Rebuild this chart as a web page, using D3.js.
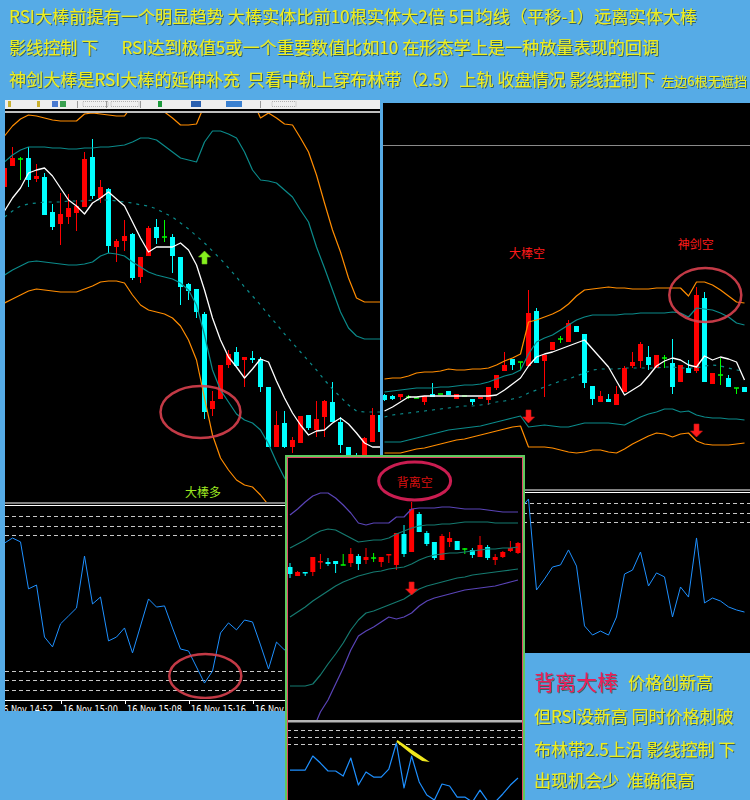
<!DOCTYPE html>
<html><head><meta charset="utf-8">
<script src="https://cdn.jsdelivr.net/npm/d3@7"></script>
<style>
html,body{margin:0;padding:0;background:#56abe6;}
svg{display:block;}
text{white-space:pre;}
</style></head><body>
<svg id="chart" width="750" height="800"></svg>
<script>
// ---------- left chart (1-minute candles, price in points) ----------
const leftOHLC = [
  [313,340,310,332],[334,353,334,342],[341,343,320,341],[342,353,313,320],[321,336,318,324],
  [323,327,285,285],[288,296,270,273],[276,307,255,286],[283,306,276,292],[287,300,269,294],
  [293,348,293,341],[343,361,301,304],[302,320,297,313],[311,312,247,254],[253,261,238,259],
  [259,280,249,264],[266,267,220,222],[223,243,217,243],[244,274,244,272],[273,281,256,262],
  [263,280,258,263],[263,266,227,244],[243,243,195,213],[216,217,200,209],[211,211,182,188],
  [186,188,81,88],[91,109,84,99],[101,135,101,135],[135,150,132,146],[148,153,134,134],
  [140,143,113,143],[142,149,137,140],[141,143,108,113],[113,113,53,53],[53,89,53,75],
  [77,89,52,53],[53,63,47,60],[57,84,57,84],[85,85,70,72],[70,99,63,81],
  [83,100,63,99],[98,118,78,78],[78,83,47,55],[53,53,42,45],[45,47,28,30],
  [45,63,43,62],[58,92,58,85],[85,88,65,68]
];
const leftMA = [289,302,312,327,330,332,324,312,300,294,286,297,302,308,301,294,278,262,248,253,253,253,257,250,235,210,182,160,143,133,122,131,141,138,119,102,87,75,65,69,70,77,82,76,67,57,53,53];
const leftUpperOuter = [364,374,381,385,384,382,380,379,379,379,386,387,386,385,384,384,395,400,400,395,388,382,375,375,376,395,405,405,405,405,405,400,382,387,382,376,375,362,348,325,297,270,248,222,202,198,198,198];
const leftUpperInner = [338,345,350,353,353,353,352,352,351,351,352,352,353,353,354,355,358,362,362,360,354,348,342,340,338,358,369,369,366,362,348,330,320,319,317,310,303,290,278,253,232,210,188,172,164,161,161,161];
const leftMid = [283,289,294,296,297,298,298,298,299,299,299,300,300,300,299,298,297,295,294,291,287,283,277,271,264,257,249,241,232,223,213,204,195,185,176,166,157,148,139,130,120,111,103,95,89,88,88,88];
const leftLowerInner = [225,230,234,238,239,238,237,236,235,235,236,238,244,247,246,244,238,233,228,225,223,221,217,210,195,165,130,110,98,86,80,77,70,56,38,22,11,6,0,7,8,12,18,18,14,15,15,15];
const leftLowerOuter = [197,201,205,209,211,210,209,208,208,208,211,214,218,219,219,217,205,195,190,188,186,182,174,160,140,102,65,42,30,20,15,13,5,-5,-15,-25,-35,-40,-45,-40,-35,-30,-25,-20,-22,-22,-22,-22];
const leftRSI = [81.0,83.6,81.6,57.3,59.3,32.4,27.3,39.2,43.3,47.4,74.3,49.5,53.1,30.4,32.4,37.1,24.2,38.1,52.1,47.9,48.5,37.1,26.2,25.2,16.9,8.6,14.8,34.5,39.7,36.1,41.2,40.2,28.3,15.9,29.8,25.7,31,35,28,30,40,38,33,30,28,35,40,36];
const timeTickIndex = [-1, 7, 15, 23, 31];
const timeTickLabels = ["16 Nov 14:52", "16 Nov 15:00", "16 Nov 15:08", "16 Nov 15:16", "16 Nov 15:24"];

// ---------- right chart ----------
const rightOHLC = [
  [105,106,99,100],[104,105,100,101],[103,106,100,106],[103,105,101,103],[102,102,102,102],
  [98,104,95,104],[106,117,103,103],[106,106,106,106],[109,109,105,105],[101,106,101,106],
  [104,104,104,104],[101,101,95,98],[101,103,101,103],[100,113,95,113],[112,125,110,125],
  [129,148,129,135],[141,141,130,135],[138,138,130,138],[134,210,134,187],[189,192,137,137],
  [139,145,103,145],[150,158,150,158],[161,164,157,161],[158,180,158,177],[174,174,168,168],
  [166,166,112,117],[114,114,95,101],[98,109,98,104],[101,106,98,98],[95,114,95,106],
  [108,134,108,132],[134,148,132,138],[139,158,132,156],[143,154,130,135],[132,145,132,145],
  [142,145,132,142],[137,161,106,113],[118,135,118,135],[132,140,127,127],[129,213,127,205],
  [202,208,118,118],[116,127,116,127],[125,142,115,125],[122,125,113,113],[112,112,106,112],
  [113,113,108,108]
];
const rightMA = [89,93,98,103,103,104,104,104,104,104,104,104,104,104,105,110,116,122,134,143,146,148,151,154,157,160,151,142,133,119,105,110,115,124,134,139,142,140,135,133,144,140,143,141,138,120];
const rightUpperOuter = [121,122,122,124,127,128,128,129,131,130,130,131,131,132,135,139,142,146,178,180,183,186,190,196,204,210,211,212,213,212,212,211,211,211,212,212,212,212,204,218,218,215,210,204,198,197];
const rightUpperInner = [108,109,110,111,112,112,112,113,113,114,115,115,116,118,121,124,126,130,146,158,162,165,170,175,180,183,185,185,185,185,186,186,187,187,187,187,188,187,183,192,191,190,187,183,177,175];
const rightMid = [83,85,86,87,88,89,90,91,92,93,94,94,95,96,98,99,101,103,107,110,113,116,119,121,124,127,130,131,131,131,132,132,132,132,132,133,133,132,132,132,134,135,134,132,130,129];
const rightLowerInner = [58,58,58,60,62,64,66,68,70,71,72,73,74,76,78,80,82,84,73,74,75,74,73,73,75,77,77,77,77,76,75,79,83,86,88,91,91,88,89,85,83,82,82,81,81,80];
const rightLowerOuter = [47,47,47,49,51,52,54,56,58,60,61,63,65,67,69,71,73,74,53,53,53,52,50,48,47,48,50,50,48,47,51,56,60,64,67,66,63,66,67,59,56,55,55,55,56,57];
const rightRSI = [55,52,50,53,51,48,55,53,58,52,55,50,54,62,70,76,72,92,97.1,49.2,55.0,61.3,62.4,70.3,61.8,30.3,25.5,27.6,25.5,35.0,57.6,59.7,69.2,51.3,58.2,56.1,35.0,50.8,45.5,76.6,42.4,45.0,43.4,40.3,38.7,37.6];

// ---------- inset chart ----------
const insetOHLC = [
  [233,237,222,226],[224,229,224,228],[228,228,224,227],[228,243,224,243],[238,246,231,239],
  [238,242,234,236],[239,239,227,236],[235,246,235,235],[237,252,233,246],[244,246,230,236],
  [240,252,236,243],[242,247,238,242],[238,243,233,243],[245,246,237,246],[235,267,230,267],
  [266,275,243,246],[248,298,248,291],[286,288,268,268],[267,269,254,256],[258,258,240,242],
  [240,266,240,264],[258,268,253,262],[259,259,250,250],[251,252,246,251],[250,252,242,245],
  [243,264,243,255],[253,255,240,242],[240,246,235,243],[243,249,242,248],[249,259,248,252],
  [247,258,246,257]
];
const insetUpperOuter = [285,291,298,304,307,307,302,295,287,277,275,277,277,277,283,283,291,292,292,292,293,293,292,291,291,291,290,289,288,288,288];
const insetUpperInner = [252,256,260,265,269,271,270,266,262,258,259,260,260,262,266,269,272,274,275,275,276,276,277,278,278,278,278,277,277,277,277];
const insetMid = [183,188,193,199,204,209,214,218,221,224,226,228,229,231,232,233,236,240,243,245,246,247,247,248,249,250,251,251,252,252,253];
const insetLowerInner = [114,114,114,116,125,136,146,157,170,180,187,189,192,195,198,201,206,211,214,216,218,220,222,223,225,226,227,228,229,230,231];
const insetLowerOuter = [40,50,60,70,88,100,116,132,150,164,169,173,178,183,181,183,187,194,199,202,204,206,208,210,211,212,213,214,216,218,220];
const insetRSI = [66.4,66.4,66.4,76.4,71.4,65.7,65.7,62.1,75,55.7,65,61.4,61.4,67.1,85.7,53.6,76.4,57.9,48.6,45,56.4,55,47.1,47.1,43.6,52.1,44.3,43.6,49.3,55.7,60.7];

const rsiLevels = [95, 90, 85, 15, 10, 5];

// signals: candle index, price level, label
const leftSignals = [{ index: 25, value: 242, dir: "up" }];
const rightSignals = [{ index: 18, value: 84, dir: "down" }, { index: 39, value: 70, dir: "down" }];
const insetSignals = [{ index: 16, value: 212, dir: "down" }];
const leftLabels = [{ index: 24.8, value: 9, text: "大棒多" }];
const rightLabels = [{ index: 17.8, value: 248, text: "大棒空" }, { index: 38.9, value: 257, text: "神剑空" }];
const insetLabels = [{ index: 16.4, value: 319, text: "背离空" }];

const headerLines = [
  "RSI大棒前提有一个明显趋势 大棒实体比前10根实体大2倍 5日均线（平移-1）远离实体大棒",
  "影线控制 下      RSI达到极值5或一个重要数值比如10 在形态学上是一种放量表现的回调",
  "神剑大棒是RSI大棒的延伸补充  只看中轨上穿布林带（2.5）上轨 收盘情况 影线控制下"
];
const headerNote = "左边6根无遮挡";
const noteTitle = "背离大棒";
const noteLines = ["价格创新高", "但RSI没新高 同时价格刺破", "布林带2.5上沿 影线控制 下", "出现机会少  准确很高"];

// ---------- drawing ----------
const COL = {
  bg: "#56abe6", bull: "#ff0000", bear: "#00ffff", doji: "#00ff00",
  ma: "#ffffff", outer: "#ff8c00", inner: "#0b8a8a", rsi: "#1e90ff", level: "#c8c8c8",
  insetOuter: "#5a44b8", insetInner: "#157a70", yellow: "#eeee1a"
};
const CJK = "'Noto Sans CJK SC','Noto Sans',sans-serif";

const svg = d3.select("#chart");
const defs = svg.append("defs");
const shadow = defs.append("filter").attr("id", "txtShadow").attr("x", "-5%").attr("y", "-20%").attr("width", "110%").attr("height", "150%");
shadow.append("feDropShadow").attr("dx", 1).attr("dy", 1).attr("stdDeviation", 0.6).attr("flood-color", "#2b4a3a").attr("flood-opacity", 0.75);

let clipCount = 0;
function clipRect(x, y, w, h) {
  const id = "clip" + (clipCount++);
  defs.append("clipPath").attr("id", id).append("rect").attr("x", x).attr("y", y).attr("width", w).attr("height", h);
  return `url(#${id})`;
}

svg.append("rect").attr("width", 750).attr("height", 800).attr("fill", COL.bg);

function drawCandles(g, data, x, y, bodyW) {
  data.forEach((d, i) => {
    const [o, h, l, c] = d;
    const col = o === c ? COL.doji : (c > o ? COL.bull : COL.bear);
    const cx = x(i);
    g.append("line").attr("x1", cx).attr("x2", cx).attr("y1", y(h)).attr("y2", y(l))
      .attr("stroke", col).attr("stroke-width", 1);
    const top = y(Math.max(o, c)), bot = y(Math.min(o, c));
    if (o === c) {
      g.append("line").attr("x1", cx - bodyW / 2).attr("x2", cx + bodyW / 2)
        .attr("y1", top).attr("y2", top).attr("stroke", col).attr("stroke-width", 1.5);
    } else {
      g.append("rect").attr("x", cx - bodyW / 2).attr("y", top)
        .attr("width", bodyW).attr("height", Math.max(1.5, bot - top)).attr("fill", col);
    }
  });
}

function drawSeries(g, values, x, y, color, width, dash) {
  const line = d3.line().x((d, i) => x(i)).y(d => y(d));
  g.append("path").datum(values).attr("d", line).attr("fill", "none")
    .attr("stroke", color).attr("stroke-width", width)
    .attr("stroke-dasharray", dash || null).attr("stroke-linejoin", "round");
}

function drawArrows(g, signals, x, y, color) {
  const up = [[0,-7],[6,-1],[2.5,-1],[2.5,6],[-2.5,6],[-2.5,-1],[-6,-1]];
  signals.forEach(s => {
    const k = s.dir === "up" ? 1 : -1;
    const pts = up.map(p => [x(s.index) + p[0], y(s.value) + p[1] * k]);
    g.append("polygon").attr("points", pts.map(p => p.join(",")).join(" "))
      .attr("fill", color).attr("stroke", d3.color(color).darker(0.6)).attr("stroke-width", 0.6);
  });
}

function drawLabels(g, labels, x, y, color, size) {
  labels.forEach(l => {
    g.append("text").attr("x", x(l.index)).attr("y", y(l.value))
      .attr("text-anchor", "middle").attr("dominant-baseline", "central")
      .attr("font-family", CJK).attr("font-size", size).attr("fill", color).text(l.text);
  });
}

function drawEllipse(g, cx, cy, rx, ry, color, w) {
  g.append("ellipse").attr("cx", cx).attr("cy", cy).attr("rx", rx).attr("ry", ry)
    .attr("fill", "none").attr("stroke", color).attr("stroke-width", w).attr("opacity", 0.9);
}

function drawLevels(g, rsiY, x0, x1) {
  rsiLevels.forEach(v => {
    g.append("line").attr("x1", x0).attr("x2", x1).attr("y1", Math.round(rsiY(v)) + 0.5).attr("y2", Math.round(rsiY(v)) + 0.5)
      .attr("stroke", COL.level).attr("stroke-width", 1).attr("stroke-dasharray", "4,3");
  });
}

// ---------- header text ----------
const header = svg.append("g").attr("font-family", CJK).attr("fill", COL.yellow).attr("filter", "url(#txtShadow)");
const headerBase = [23, 54, 86];
const headerWidth = [688, 650, 646];
headerLines.forEach((t, i) => {
  header.append("text").attr("x", 9).attr("y", headerBase[i]).attr("font-size", 17)
    .attr("textLength", headerWidth[i]).attr("lengthAdjust", "spacingAndGlyphs").text(t);
});
header.append("text").attr("x", 661).attr("y", 86).attr("font-size", 13)
  .attr("textLength", 86).attr("lengthAdjust", "spacingAndGlyphs").text(headerNote);

// ---------- left panel ----------
const L = svg.append("g");
L.append("rect").attr("x", 5).attr("y", 100).attr("width", 375).attr("height", 611).attr("fill", "#000");
// toolbar strip
L.append("rect").attr("x", 5).attr("y", 100).attr("width", 375).attr("height", 9).attr("fill", "#eeeeee");
[[8,3,"#c8b030"],[37,3,"#c8b030"],[52,6,"#4a7ad0"],[60,6,"#3aa050"],[158,4,"#1c9a3c"],[191,10,"#2a60b0"],[226,16,"#3a80d0"]].forEach(b => {
  L.append("rect").attr("x", b[0]).attr("y", 101).attr("width", b[1]).attr("height", 6).attr("fill", b[2]);
});
[[83,25],[111,28],[272,24]].forEach(b => {
  L.append("rect").attr("x", b[0]).attr("y", 101.5).attr("width", b[1]).attr("height", 5).attr("fill", "none")
    .attr("stroke", "#b0b0b0").attr("stroke-dasharray", "1,1");
});
[[77],[106],[140],[260]].forEach(b => {
  L.append("line").attr("x1", b[0] + 0.5).attr("x2", b[0] + 0.5).attr("y1", 101).attr("y2", 108).attr("stroke", "#999");
});
L.append("line").attr("x1", 5).attr("x2", 380).attr("y1", 112).attr("y2", 112).attr("stroke", "#fff").attr("stroke-width", 1.5);

const xL = d3.scaleLinear().domain([0, 47]).range([4.5, 380.5]);
const yL = d3.scaleLinear().domain([0, 390]).range([500, 110]);
const gL = L.append("g").attr("clip-path", clipRect(5, 113, 375, 389));
drawCandles(gL, leftOHLC, xL, yL, 5);
drawSeries(gL, leftUpperOuter, xL, yL, COL.outer, 1.2);
drawSeries(gL, leftLowerOuter, xL, yL, COL.outer, 1.2);
drawSeries(gL, leftUpperInner, xL, yL, COL.inner, 1.2);
drawSeries(gL, leftLowerInner, xL, yL, COL.inner, 1.2);
drawSeries(gL, leftMid, xL, yL, COL.inner, 1.2, "3,5");
drawSeries(gL, leftMA, xL, yL, COL.ma, 1.3);
drawArrows(gL, leftSignals, xL, yL, "#86f01e");
drawLabels(gL, leftLabels, xL, yL, "#9ee820", 12);
drawEllipse(gL, xL(24.5), yL(88), 40, 26, "#d8404e", 2.5);

L.append("line").attr("x1", 5).attr("x2", 380).attr("y1", 503).attr("y2", 503).attr("stroke", "#fff").attr("stroke-width", 1.2);
L.append("line").attr("x1", 5).attr("x2", 380).attr("y1", 505.5).attr("y2", 505.5).attr("stroke", "#fff").attr("stroke-width", 1.2);

const rsiL = d3.scaleLinear().domain([0, 100]).range([699.7, 506.3]);
const gLR = L.append("g").attr("clip-path", clipRect(5, 507, 375, 192));
drawLevels(gLR, rsiL, 5, 380);
drawSeries(gLR, leftRSI, xL, rsiL, COL.rsi, 1);
drawEllipse(gLR, xL(25.1), rsiL(12.3), 36, 22, "#d8404e", 2.5);

// time axis
const gAx = L.append("g").attr("clip-path", clipRect(5, 699, 375, 12));
gAx.append("line").attr("x1", 5).attr("x2", 380).attr("y1", 700.5).attr("y2", 700.5).attr("stroke", "#fff");
timeTickIndex.forEach((ti, n) => {
  const tx = Math.round(xL(ti)) + 0.5;
  gAx.append("line").attr("x1", tx).attr("x2", tx).attr("y1", 700).attr("y2", 704).attr("stroke", "#fff");
  gAx.append("text").attr("x", tx + 1.5).attr("y", 713).attr("font-family", "'DejaVu Sans',sans-serif")
    .attr("font-size", 10).attr("textLength", 55).attr("lengthAdjust", "spacingAndGlyphs")
    .attr("fill", "#fff").text(timeTickLabels[n]);
});

// ---------- right panel ----------
const R = svg.append("g");
R.append("rect").attr("x", 383).attr("y", 103).attr("width", 367).attr("height", 550).attr("fill", "#000");
R.append("line").attr("x1", 383).attr("x2", 750).attr("y1", 145.5).attr("y2", 145.5).attr("stroke", "#8a8a8a").attr("stroke-width", 1);

const xR = d3.scaleLinear().domain([0, 45]).range([384.5, 744.5]);
const yR = d3.scaleLinear().domain([0, 390]).range([500, 110]);
const gR = R.append("g").attr("clip-path", clipRect(383, 147, 367, 342));
drawCandles(gR, rightOHLC, xR, yR, 5);
drawSeries(gR, rightUpperOuter, xR, yR, COL.outer, 1.2);
drawSeries(gR, rightLowerOuter, xR, yR, COL.outer, 1.2);
drawSeries(gR, rightUpperInner, xR, yR, COL.inner, 1.2);
drawSeries(gR, rightLowerInner, xR, yR, COL.inner, 1.2);
drawSeries(gR, rightMid, xR, yR, COL.inner, 1.2, "3,5");
drawSeries(gR, rightMA, xR, yR, COL.ma, 1.3);
drawArrows(gR, rightSignals, xR, yR, "#ff1a1a");
drawLabels(gR, rightLabels, xR, yR, "#ff1a1a", 12);
drawEllipse(gR, xR(40.1), yR(205), 36, 27, "#d8404e", 2.5);

R.append("line").attr("x1", 383).attr("x2", 750).attr("y1", 490).attr("y2", 490).attr("stroke", "#fff").attr("stroke-width", 1.2);
R.append("line").attr("x1", 383).attr("x2", 750).attr("y1", 492.5).attr("y2", 492.5).attr("stroke", "#fff").attr("stroke-width", 1.2);

const rsiR = d3.scaleLinear().domain([0, 100]).range([683.5, 493.5]);
const gRR = R.append("g").attr("clip-path", clipRect(383, 494, 367, 159));
drawLevels(gRR, rsiR, 383, 750);
drawSeries(gRR, rightRSI, xR, rsiR, COL.rsi, 1);

// ---------- inset panel ----------
const I = svg.append("g");
I.append("rect").attr("x", 285).attr("y", 455).attr("width", 240).attr("height", 345).attr("fill", "#000");
const xI = d3.scaleLinear().domain([0, 30]).range([290, 518]);
const yI = d3.scaleLinear().domain([0, 350]).range([800, 450]);
const gI = I.append("g").attr("clip-path", clipRect(287, 458, 236, 262));
drawCandles(gI, insetOHLC, xI, yI, 5);
drawSeries(gI, insetUpperOuter, xI, yI, COL.insetOuter, 1.2);
drawSeries(gI, insetLowerOuter, xI, yI, COL.insetOuter, 1.2);
drawSeries(gI, insetUpperInner, xI, yI, COL.insetInner, 1.2);
drawSeries(gI, insetLowerInner, xI, yI, COL.insetInner, 1.2);
drawSeries(gI, insetMid, xI, yI, COL.insetInner, 1.2);
drawArrows(gI, insetSignals, xI, yI, "#ff1a1a");
drawLabels(gI, insetLabels, xI, yI, "#d81010", 12);
drawEllipse(gI, xI(16.4), yI(319), 36, 19, "#e0205a", 3);

I.append("rect").attr("x", 287).attr("y", 720).attr("width", 236).attr("height", 2.5).attr("fill", "#b4b4b4");
const rsiI = d3.scaleLinear().domain([0, 100]).range([863, 723]);
const gIR = I.append("g").attr("clip-path", clipRect(287, 723, 236, 77));
drawLevels(gIR, rsiI, 287, 523);
drawSeries(gIR, insetRSI, xI, rsiI, COL.rsi, 1.2);
// divergence marker on the RSI peaks
gIR.append("polygon")
  .attr("points", [[xI(14) + 1, rsiI(insetRSI[14]) - 3], [xI(18) + 3, rsiI(insetRSI[14]) + 19], [xI(17) + 3, rsiI(insetRSI[14]) + 18], [xI(16) + 1, rsiI(insetRSI[14]) + 12], [xI(14), rsiI(insetRSI[14]) - 1]].map(p => p.join(",")).join(" "))
  .attr("fill", "#f0e81e");

// frame
I.append("rect").attr("x", 286).attr("y", 456).attr("width", 238).attr("height", 346).attr("fill", "none").attr("stroke", "#5ec85e").attr("stroke-width", 2);
I.append("rect").attr("x", 287.5).attr("y", 457.5).attr("width", 235).attr("height", 344).attr("fill", "none").attr("stroke", "#e04868").attr("stroke-width", 1);

// ---------- note text ----------
const N = svg.append("g").attr("font-family", CJK).attr("filter", "url(#txtShadow)");
N.append("text").attr("x", 534).attr("y", 690).attr("font-size", 21).attr("fill", "#ee1a5a").text(noteTitle);
N.append("text").attr("x", 628).attr("y", 689).attr("font-size", 17).attr("fill", COL.yellow).text(noteLines[0]);
[723, 756, 787].forEach((yy, i) => {
  N.append("text").attr("x", 534).attr("y", yy).attr("font-size", 17).attr("fill", COL.yellow).text(noteLines[i + 1]);
});
</script></body></html>
